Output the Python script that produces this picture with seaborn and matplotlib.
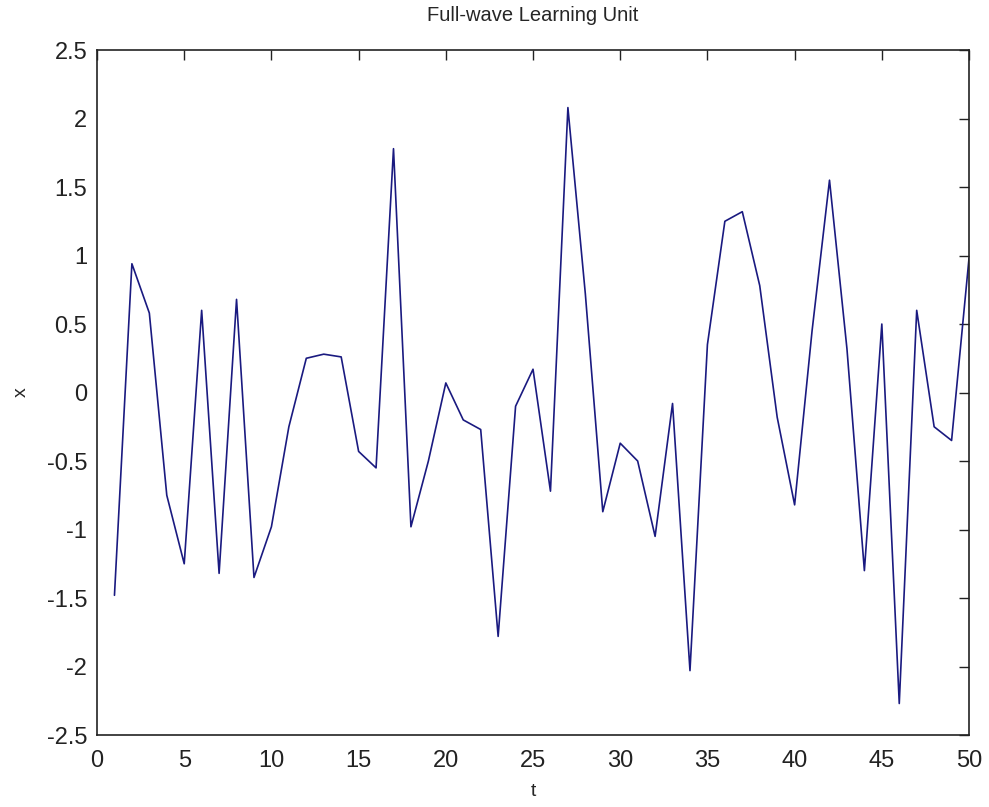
import matplotlib.pyplot as plt
import pandas as pd
import seaborn as sns

# Values (t = 1..50)
t = list(range(1, 51))
x = [-1.48, 0.94, 0.58, -0.75, -1.25, 0.60, -1.32, 0.68, -1.35, -0.98,
     -0.25, 0.25, 0.28, 0.26, -0.43, -0.55, 1.78, -0.98, -0.50, 0.07,
     -0.20, -0.27, -1.78, -0.10, 0.17, -0.72, 2.08, 0.72, -0.87, -0.37,
     -0.50, -1.05, -0.08, -2.03, 0.35, 1.25, 1.32, 0.78, -0.18, -0.82,
     0.45, 1.55, 0.32, -1.30, 0.50, -2.27, 0.60, -0.25, -0.35, 0.98]
x_ticks = [0, 5, 10, 15, 20, 25, 30, 35, 40, 45, 50]
y_ticks = [-2.5, -2, -1.5, -1, -0.5, 0, 0.5, 1, 1.5, 2, 2.5]
y_labels = ['-2.5', '-2', '-1.5', '-1', '-0.5', '0', '0.5', '1', '1.5', '2', '2.5']

df = pd.DataFrame({'t': t, 'x': x})

sns.set_style('white')
plt.rcParams['font.family'] = ['Liberation Sans', 'DejaVu Sans']

fig = plt.figure(figsize=(9.89, 8.07), dpi=100)
ax = fig.add_axes([0.0981, 0.0892, 0.8817, 0.8488])

sns.lineplot(data=df, x='t', y='x', ax=ax, color='#1a1a80', linewidth=1.2)

ax.set_xlim(0, 50)
ax.set_ylim(-2.5, 2.5)
ax.set_xticks(x_ticks)
ax.set_xticklabels([str(v) for v in x_ticks])
ax.set_yticks(y_ticks)
ax.set_yticklabels(y_labels)
ax.tick_params(direction='in', length=7, width=1, colors='#222222',
               labelsize=17, top=True, right=True)
ax.tick_params(axis='x', pad=11)
ax.tick_params(axis='y', pad=7)
for s in ax.spines.values():
    s.set_color('#222222')
    s.set_linewidth(1.2)

ax.set_title('Full-wave Learning Unit', fontsize=14.5, pad=21)
ax.set_xlabel('t', fontsize=14, labelpad=8)
ax.set_ylabel('x', fontsize=14, labelpad=12)

fig.savefig('out.png', dpi=100)
